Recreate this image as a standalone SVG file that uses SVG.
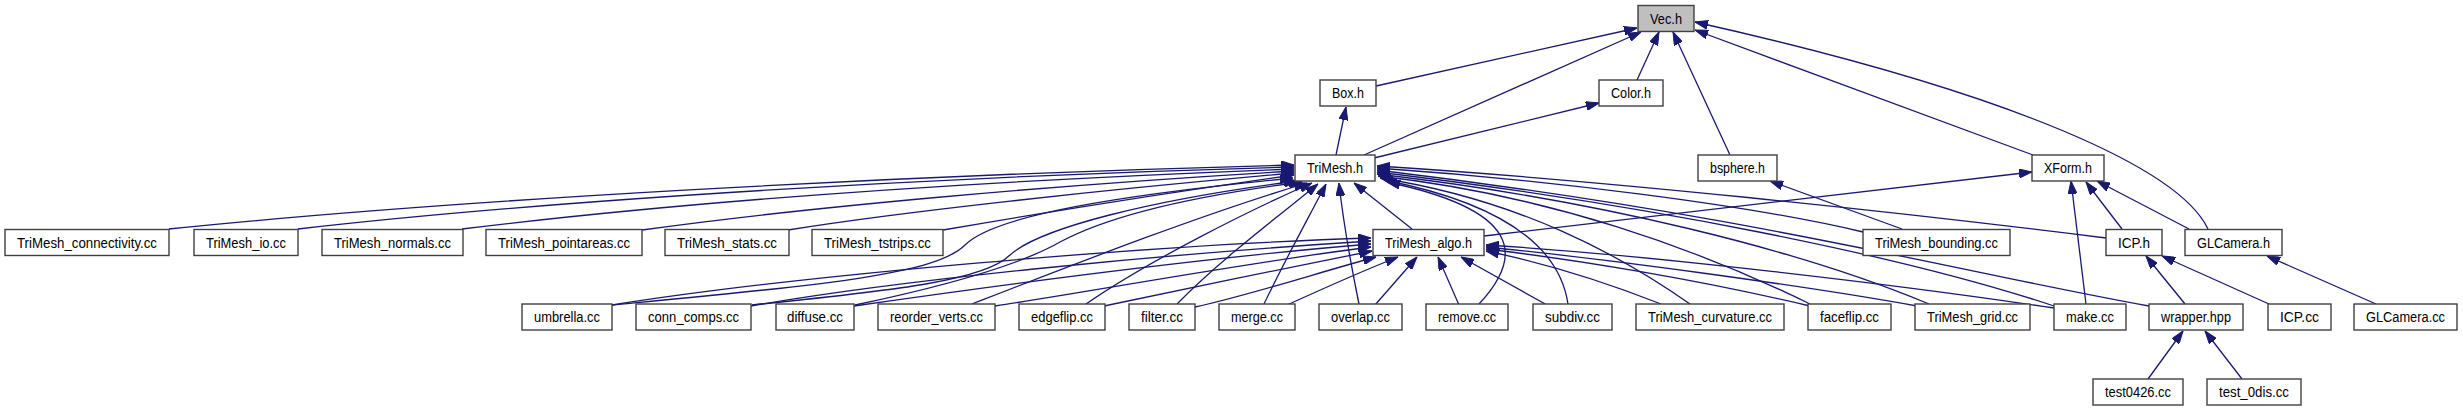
<svg xmlns="http://www.w3.org/2000/svg" width="2463" height="411" viewBox="0 0 2463 411">
<style>
.n rect{fill:#ffffff;stroke:#404040;stroke-width:1.4}
.n.root rect{fill:#bfbfbf}
.n text{font-family:"Liberation Sans",Arial,Helvetica,sans-serif;font-size:14px;fill:#000;text-anchor:middle}
.e path{fill:none;stroke:#191970;stroke-width:1.3;marker-end:url(#arr)}
</style>
<defs>
<marker id="arr" viewBox="0 0 13 9" refX="13" refY="4.5" markerWidth="13" markerHeight="9" markerUnits="userSpaceOnUse" orient="auto">
<path d="M0,0 L13,4.5 L0,9 z" fill="#191970" stroke="#191970" stroke-width="1"/>
</marker>
</defs>
<rect x="0" y="0" width="2463" height="411" fill="#ffffff"/>
<g id="edges" class="e">
<path d="M1376,86 L1637,28"/>
<path d="M1364,155 L1641,32"/>
<path d="M1637,80 L1659,32"/>
<path d="M1730,155 L1673,32"/>
<path d="M2033,155 L1695,30"/>
<path d="M2208,229 C2180,170 2020,95 1695,22"/>
<path d="M1336,155 L1346,107"/>
<path d="M1374,158 L1599,103"/>
<path d="M1902,229 L1770,181"/>
<path d="M1484,236 L2032,172"/>
<path d="M2122,229 L2086,182"/>
<path d="M2086,304 L2071,181"/>
<path d="M2189,229 L2097,181"/>
<path d="M2185,304 L2146,256"/>
<path d="M2269,304 L2162,256"/>
<path d="M2376,304 L2267,256"/>
<path d="M2148,379 L2183,331"/>
<path d="M2242,379 L2205,331"/>
<path d="M169,229 C450,200 900,175 1294,165"/>
<path d="M298,229 C550,200 950,176 1294,167"/>
<path d="M462,229 C700,200 1000,180 1294,169"/>
<path d="M642,230 C800,208 1050,185 1294,171"/>
<path d="M788,230 C900,212 1100,190 1294,173"/>
<path d="M943,230 C1030,215 1150,195 1294,175"/>
<path d="M612,305 C820,285 935,275 965,245 C995,215 1120,195 1293,178"/>
<path d="M752,305 C900,290 985,280 1010,255 C1040,228 1150,200 1297,181"/>
<path d="M855,305 C950,285 1020,265 1060,242 C1110,215 1200,195 1302,182"/>
<path d="M972,304 C1080,262 1200,215 1307,183"/>
<path d="M1086,304 C1150,260 1250,210 1312,183"/>
<path d="M1177,304 C1220,260 1280,215 1318,184"/>
<path d="M1264,304 C1285,260 1310,215 1326,184"/>
<path d="M1359,304 C1350,260 1343,220 1339,183"/>
<path d="M1412,229 L1354,183"/>
<path d="M2106,238 C1900,212 1600,180 1377,166"/>
<path d="M1863,232 C1750,205 1550,180 1377,168"/>
<path d="M2149,306 C1950,270 1750,215 1377,170"/>
<path d="M2054,306 C1900,255 1650,205 1377,172"/>
<path d="M1929,304 C1800,250 1600,200 1377,174"/>
<path d="M1810,304 C1700,250 1550,195 1378,176"/>
<path d="M1690,304 C1620,255 1520,200 1380,178"/>
<path d="M1568,304 C1560,250 1510,205 1384,180"/>
<path d="M1479,304 C1525,255 1520,210 1387,182"/>
<path d="M612,305 C800,275 1150,245 1371,238"/>
<path d="M751,306 C900,280 1150,255 1371,241"/>
<path d="M854,306 C1000,285 1200,258 1371,244"/>
<path d="M995,306 C1100,290 1250,262 1371,247"/>
<path d="M1104,306 C1180,290 1300,265 1372,251"/>
<path d="M1195,307 C1250,295 1320,272 1376,257"/>
<path d="M1287,305 C1320,290 1370,268 1398,257"/>
<path d="M1375,305 L1417,257"/>
<path d="M1459,305 L1438,257"/>
<path d="M1547,305 L1461,257"/>
<path d="M1661,304 C1600,280 1540,262 1486,251"/>
<path d="M1810,306 C1700,280 1580,260 1486,249"/>
<path d="M1917,306 C1800,285 1600,258 1486,247"/>
<path d="M2054,308 C1900,285 1650,255 1486,245"/>
</g>
<g id="n_vec" class="n root"><rect x="1638" y="5.5" width="56" height="26"/><text x="1666" y="23.5" textLength="32" lengthAdjust="spacingAndGlyphs">Vec.h</text></g>
<g id="n_box" class="n"><rect x="1320" y="80" width="56" height="26"/><text x="1348" y="98" textLength="32" lengthAdjust="spacingAndGlyphs">Box.h</text></g>
<g id="n_color" class="n"><rect x="1599" y="80" width="64" height="26"/><text x="1631" y="98" textLength="40" lengthAdjust="spacingAndGlyphs">Color.h</text></g>
<g id="n_trimesh" class="n"><rect x="1295" y="155" width="80" height="26"/><text x="1335" y="173" textLength="56" lengthAdjust="spacingAndGlyphs">TriMesh.h</text></g>
<g id="n_bsphere" class="n"><rect x="1698" y="155" width="79" height="26"/><text x="1737.5" y="173" textLength="55" lengthAdjust="spacingAndGlyphs">bsphere.h</text></g>
<g id="n_xform" class="n"><rect x="2032" y="155" width="72" height="26"/><text x="2068" y="173" textLength="48" lengthAdjust="spacingAndGlyphs">XForm.h</text></g>
<g id="n_conn" class="n"><rect x="5" y="229.5" width="164" height="26"/><text x="87" y="247.5" textLength="140" lengthAdjust="spacingAndGlyphs">TriMesh_connectivity.cc</text></g>
<g id="n_io" class="n"><rect x="194" y="229.5" width="104" height="26"/><text x="246" y="247.5" textLength="80" lengthAdjust="spacingAndGlyphs">TriMesh_io.cc</text></g>
<g id="n_normals" class="n"><rect x="322" y="229.5" width="141" height="26"/><text x="392.5" y="247.5" textLength="117" lengthAdjust="spacingAndGlyphs">TriMesh_normals.cc</text></g>
<g id="n_pointareas" class="n"><rect x="486" y="229.5" width="156" height="26"/><text x="564" y="247.5" textLength="132" lengthAdjust="spacingAndGlyphs">TriMesh_pointareas.cc</text></g>
<g id="n_stats" class="n"><rect x="665" y="229.5" width="124" height="26"/><text x="727" y="247.5" textLength="100" lengthAdjust="spacingAndGlyphs">TriMesh_stats.cc</text></g>
<g id="n_tstrips" class="n"><rect x="812" y="229.5" width="131" height="26"/><text x="877.5" y="247.5" textLength="107" lengthAdjust="spacingAndGlyphs">TriMesh_tstrips.cc</text></g>
<g id="n_algo" class="n"><rect x="1373" y="229.5" width="111" height="26"/><text x="1428.5" y="247.5" textLength="87" lengthAdjust="spacingAndGlyphs">TriMesh_algo.h</text></g>
<g id="n_bounding" class="n"><rect x="1863" y="229.5" width="147" height="26"/><text x="1936.5" y="247.5" textLength="123" lengthAdjust="spacingAndGlyphs">TriMesh_bounding.cc</text></g>
<g id="n_icph" class="n"><rect x="2106" y="229.5" width="56" height="26"/><text x="2134" y="247.5" textLength="32" lengthAdjust="spacingAndGlyphs">ICP.h</text></g>
<g id="n_glcamh" class="n"><rect x="2185" y="229.5" width="97" height="26"/><text x="2233.5" y="247.5" textLength="73" lengthAdjust="spacingAndGlyphs">GLCamera.h</text></g>
<g id="n_umbrella" class="n"><rect x="522" y="304" width="90" height="26"/><text x="567" y="322" textLength="66" lengthAdjust="spacingAndGlyphs">umbrella.cc</text></g>
<g id="n_conncomps" class="n"><rect x="636" y="304" width="115" height="26"/><text x="693.5" y="322" textLength="91" lengthAdjust="spacingAndGlyphs">conn_comps.cc</text></g>
<g id="n_diffuse" class="n"><rect x="776" y="304" width="78" height="26"/><text x="815" y="322" textLength="56" lengthAdjust="spacingAndGlyphs">diffuse.cc</text></g>
<g id="n_reorder" class="n"><rect x="878" y="304" width="117" height="26"/><text x="936.5" y="322" textLength="93" lengthAdjust="spacingAndGlyphs">reorder_verts.cc</text></g>
<g id="n_edgeflip" class="n"><rect x="1019" y="304" width="86" height="26"/><text x="1062" y="322" textLength="62" lengthAdjust="spacingAndGlyphs">edgeflip.cc</text></g>
<g id="n_filter" class="n"><rect x="1129" y="304" width="66" height="26"/><text x="1162" y="322" textLength="42" lengthAdjust="spacingAndGlyphs">filter.cc</text></g>
<g id="n_merge" class="n"><rect x="1219" y="304" width="76" height="26"/><text x="1257" y="322" textLength="52" lengthAdjust="spacingAndGlyphs">merge.cc</text></g>
<g id="n_overlap" class="n"><rect x="1319" y="304" width="83" height="26"/><text x="1360.5" y="322" textLength="59" lengthAdjust="spacingAndGlyphs">overlap.cc</text></g>
<g id="n_remove" class="n"><rect x="1426" y="304" width="82" height="26"/><text x="1467" y="322" textLength="58" lengthAdjust="spacingAndGlyphs">remove.cc</text></g>
<g id="n_subdiv" class="n"><rect x="1533" y="304" width="79" height="26"/><text x="1572.5" y="322" textLength="55" lengthAdjust="spacingAndGlyphs">subdiv.cc</text></g>
<g id="n_curvature" class="n"><rect x="1636" y="304" width="148" height="26"/><text x="1710" y="322" textLength="124" lengthAdjust="spacingAndGlyphs">TriMesh_curvature.cc</text></g>
<g id="n_faceflip" class="n"><rect x="1808" y="304" width="83" height="26"/><text x="1849.5" y="322" textLength="59" lengthAdjust="spacingAndGlyphs">faceflip.cc</text></g>
<g id="n_grid" class="n"><rect x="1915" y="304" width="115" height="26"/><text x="1972.5" y="322" textLength="91" lengthAdjust="spacingAndGlyphs">TriMesh_grid.cc</text></g>
<g id="n_make" class="n"><rect x="2054" y="304" width="72" height="26"/><text x="2090" y="322" textLength="48" lengthAdjust="spacingAndGlyphs">make.cc</text></g>
<g id="n_wrapper" class="n"><rect x="2149" y="304" width="94" height="26"/><text x="2196" y="322" textLength="70" lengthAdjust="spacingAndGlyphs">wrapper.hpp</text></g>
<g id="n_icpcc" class="n"><rect x="2268" y="304" width="63" height="26"/><text x="2299.5" y="322" textLength="39" lengthAdjust="spacingAndGlyphs">ICP.cc</text></g>
<g id="n_glcamcc" class="n"><rect x="2354" y="304" width="103" height="26"/><text x="2405.5" y="322" textLength="79" lengthAdjust="spacingAndGlyphs">GLCamera.cc</text></g>
<g id="n_test0426" class="n"><rect x="2093" y="379" width="90" height="26"/><text x="2138" y="397" textLength="66" lengthAdjust="spacingAndGlyphs">test0426.cc</text></g>
<g id="n_test0dis" class="n"><rect x="2207" y="379" width="94" height="26"/><text x="2254" y="397" textLength="70" lengthAdjust="spacingAndGlyphs">test_0dis.cc</text></g>
</svg>
